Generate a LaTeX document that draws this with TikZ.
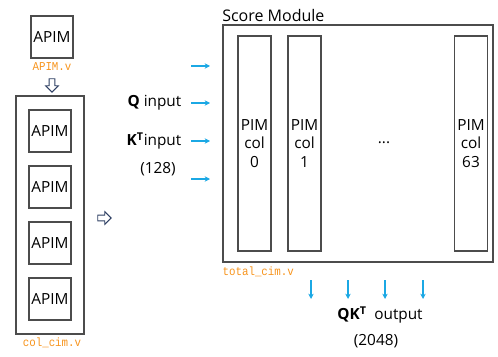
\documentclass[tikz,border=0pt]{standalone}
\usepackage{fontspec}
\setmainfont{Open Sans}
\setmonofont{Liberation Mono}[FakeStretch=0.9]
\usetikzlibrary{arrows.meta, positioning, shapes.arrows}
\definecolor{vorange}{HTML}{F7941D}
\definecolor{wireblue}{HTML}{1BA8E4}
\definecolor{hollowblue}{HTML}{2E3F63}

\begin{document}
\begin{tikzpicture}[
            x=0.75pt, y=-0.75pt,
            font=\fontsize{11.5}{13}\selectfont,
            >={Stealth[length=4pt, width=4pt]},
            apim box/.style  ={draw=black!70, line width=0.9pt, minimum width=31.5pt, minimum height=31.5pt, inner sep=0pt},
            col box/.style   ={draw=black!70, line width=0.9pt, minimum width=24.75pt, minimum height=161.25pt, inner sep=0pt,
                               align=center, font=\fontsize{11.5}{14}\selectfont},
            outer box/.style ={draw=black!70, line width=0.9pt, inner sep=0pt},
            vlbl/.style      ={text=vorange, font=\ttfamily\fontsize{9}{10}\selectfont, inner sep=1pt},
            wire/.style      ={->, draw=wireblue, line width=0.9pt},
            hollow/.style    ={draw=hollowblue, fill=white, line width=0.7pt, shape=single arrow, inner sep=1.8pt,
                               minimum height=10pt, single arrow head extend=2.6pt}
        ]
        \useasboundingbox (0,0) rectangle (498,356);

        %% ---- left: single APIM and the column built from it -----------------
        \node[apim box] (apim) at (52,37) {APIM};
        \node[vlbl] (apimv) at (52,67) {APIM.v};
        \node[hollow, shape border rotate=270] (down) at (52,84) {};

        \node[outer box, minimum width=51pt, minimum height=178.5pt] (colcim) at (50,215) {};
        \node[apim box] (a0) at (50,131) {APIM};
        \node[apim box] (a1) at (50,187) {APIM};
        \node[apim box] (a2) at (50,243) {APIM};
        \node[apim box] (a3) at (50,299) {APIM};
        \node[vlbl] (colv) at (52,343) {col\_cim.v};

        \node[hollow] (right) at (103,218) {};

        %% ---- inputs -----------------------------------------------------------
        \node[anchor=east] (qin) at (186,103) {\textbf{Q} input};
        \node[anchor=east] (kin) at (186,141) {\textbf{K}\textsuperscript{\textbf{T}}input};
        \node (kw) at (158,169) {(128)};
        \foreach \y [count=\i] in {66,103,141,179} {
            \coordinate (in\i a) at (191,\y);
            \coordinate (in\i b) at (210,\y);
            \draw[wire] (in\i a) -- (in\i b);
        }

        %% ---- right: score module with the PIM columns -----------------------
        \node[outer box, minimum width=202.5pt, minimum height=177.75pt] (score) at (358,143.5) {};
        \node[anchor=base west, inner sep=0pt, font=\fontsize{12}{14}\selectfont] (title) at (222,22) {Score Module};
        \node[col box] (c0) at (254.5,143.5) {PIM\\col\\0};
        \node[col box] (c1) at (304.5,143.5) {PIM\\col\\1};
        \node[col box] (c63) at (471,143.5) {PIM\\col\\63};
        \node (dots) at (384,143) {...};
        \node[vlbl, anchor=west] (totv) at (221,272) {total\_cim.v};

        %% ---- outputs ----------------------------------------------------------
        \foreach \x [count=\i] in {311,348,385,423} {
            \coordinate (out\i a) at (\x,280);
            \coordinate (out\i b) at (\x,299);
            \draw[wire] (out\i a) -- (out\i b);
        }
        \node (qk) at (380,315) {\textbf{QK\textsuperscript{T}}\enspace output};
        \node (ow) at (376,341) {(2048)};
    \end{tikzpicture}
\end{document}
